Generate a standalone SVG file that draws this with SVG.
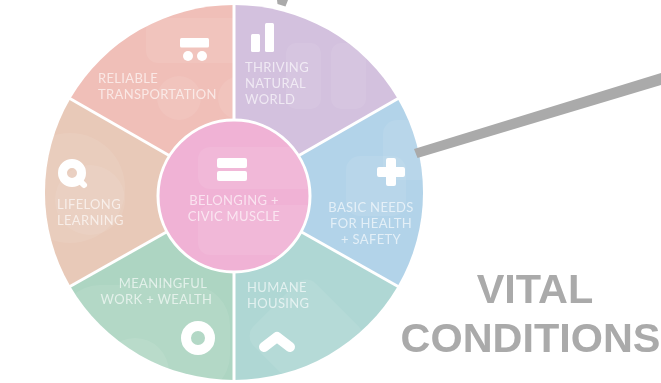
<svg xmlns="http://www.w3.org/2000/svg" width="661" height="383" viewBox="0 0 661 383">
<style>
.lb{font-family:Lato,"Open Sans",sans-serif;font-size:13px;fill:#fff;fill-opacity:.64;letter-spacing:.34px}
.c{text-anchor:middle}
.ic{fill:#fff}
.icl{fill:none;stroke:#fff}
.p{fill:#fff;fill-opacity:.08}
.sp{stroke:#fff;stroke-width:3;fill:none}
.tt{font-family:"Liberation Sans",Arial,sans-serif;font-weight:bold;font-size:41.400px;fill:#aaa;text-anchor:middle}
.cn{fill:#aaa}
</style>
<defs>
<filter id="soft" x="-5%" y="-5%" width="110%" height="110%"><feGaussianBlur stdDeviation="0.5"/></filter>
<clipPath id="c1"><path d="M234 193V5A189 187.500 0 0 1 397.700 98.750Z"/></clipPath>
<clipPath id="c2"><path d="M234 193L397.700 98.750A189 187.500 0 0 1 397.700 286.250Z"/></clipPath>
<clipPath id="c3"><path d="M234 193L397.700 286.250A189 187.500 0 0 1 234 380Z"/></clipPath>
<clipPath id="c4"><path d="M234 193V380A189 187.500 0 0 1 70.300 286.250Z"/></clipPath>
<clipPath id="c5"><path d="M234 193L70.300 286.250A189 187.500 0 0 1 70.300 98.750Z"/></clipPath>
<clipPath id="c6"><path d="M234 193L70.300 98.750A189 187.500 0 0 1 234 5Z"/></clipPath>
<clipPath id="c7"><circle cx="234" cy="196" r="75"/></clipPath>
</defs>
<g filter="url(#soft)">
<g id="thriving-natural-world">
<path d="M234 193V5A189 187.500 0 0 1 397.700 98.750Z" fill="#d3c1de"/>
<g clip-path="url(#c1)"><rect class="p" x="286" y="43" width="35" height="66" rx="10"/><rect class="p" x="331" y="43" width="35" height="66" rx="10"/></g>
<rect class="ic" x="251" y="34" width="9" height="18" rx="1.500"/><rect class="ic" x="265" y="23" width="9" height="29" rx="1.500"/>
<text class="lb" x="245" y="72">THRIVING</text><text class="lb" x="245" y="88">NATURAL</text><text class="lb" x="245" y="104">WORLD</text>
</g>
<g id="basic-needs">
<path d="M234 193L397.700 98.750A189 187.500 0 0 1 397.700 286.250Z" fill="#b2d3e9"/>
<g clip-path="url(#c2)"><rect class="p" x="346" y="156" width="60" height="60" rx="14"/><rect class="p" x="383" y="120" width="50" height="60" rx="14"/></g>
<path class="ic" d="M386 160a2 2 0 0 1 2-2h6a2 2 0 0 1 2 2v7h7a2 2 0 0 1 2 2v6a2 2 0 0 1-2 2h-7v7a2 2 0 0 1-2 2h-6a2 2 0 0 1-2-2v-7h-7a2 2 0 0 1-2-2v-6a2 2 0 0 1 2-2h7z"/>
<text class="lb c" x="371" y="212">BASIC NEEDS</text><text class="lb c" x="371" y="228">FOR HEALTH</text><text class="lb c" x="371" y="244">+ SAFETY</text>
</g>
<g id="humane-housing">
<path d="M234 193L397.700 286.250A189 187.500 0 0 1 234 380Z" fill="#afd7d4"/>
<g clip-path="url(#c3)"><rect class="p" x="262" y="292" width="88" height="88" rx="14" transform="rotate(45 306 336)"/></g>
<path class="icl" d="M264 347L277 337L290 347" stroke-width="10" stroke-linecap="round" stroke-linejoin="round"/>
<text class="lb" x="247" y="292">HUMANE</text><text class="lb" x="247" y="308">HOUSING</text>
</g>
<g id="meaningful-work">
<path d="M234 193V380A189 187.500 0 0 1 70.300 286.250Z" fill="#add5c2"/>
<g clip-path="url(#c4)"><circle class="p" cx="135" cy="372" r="34"/><rect class="p" x="60" y="285" width="170" height="110" rx="40"/></g>
<circle class="icl" cx="198" cy="338" r="12" stroke-width="10"/>
<text class="lb c" x="163" y="288">MEANINGFUL</text><text class="lb c" x="156.500" y="304">WORK + WEALTH</text>
</g>
<g id="lifelong-learning">
<path d="M234 193L70.300 286.250A189 187.500 0 0 1 70.300 98.750Z" fill="#e8c9b8"/>
<g clip-path="url(#c5)"><circle class="p" cx="70" cy="188" r="55"/><circle class="p" cx="90" cy="200" r="35"/></g>
<circle class="icl" cx="72" cy="173" r="9.500" stroke-width="9"/><path class="icl" d="M79 180L84 185" stroke-width="6" stroke-linecap="round"/>
<text class="lb" x="57" y="209">LIFELONG</text><text class="lb" x="57" y="225">LEARNING</text>
</g>
<g id="reliable-transportation">
<path d="M234 193L70.300 98.750A189 187.500 0 0 1 234 5Z" fill="#f0bfb8"/>
<g clip-path="url(#c6)"><rect class="p" x="146" y="18" width="100" height="45" rx="12"/><circle class="p" cx="179" cy="98" r="22"/><circle class="p" cx="240" cy="98" r="22"/></g>
<rect class="ic" x="180" y="38" width="29" height="9.500" rx="1.500"/><circle class="ic" cx="188" cy="56" r="5"/><circle class="ic" cx="202" cy="56" r="5"/>
<text class="lb" x="98" y="83">RELIABLE</text><text class="lb" x="98" y="99">TRANSPORTATION</text>
</g>
<line class="sp" x1="234" y1="3" x2="234" y2="125"/>
<line class="sp" x1="234" y1="266" x2="234" y2="382"/>
<line class="sp" x1="69" y1="98" x2="170" y2="156"/>
<line class="sp" x1="399" y1="98" x2="298" y2="156"/>
<line class="sp" x1="69" y1="287" x2="170" y2="230"/>
<line class="sp" x1="399" y1="287" x2="298" y2="230"/>
<g id="belonging-civic-muscle">
<circle cx="234" cy="196" r="76" fill="#f0b2d5" stroke="#fff" stroke-width="3"/>
<g clip-path="url(#c7)"><rect class="p" x="198" y="147" width="120" height="42" rx="12"/><rect class="p" x="198" y="205" width="120" height="50" rx="12"/></g>
<rect class="ic" x="217" y="158" width="30" height="10" rx="2"/><rect class="ic" x="217" y="171" width="30" height="10" rx="2"/>
<text class="lb c" x="234" y="205">BELONGING +</text><text class="lb c" x="234" y="221">CIVIC MUSCLE</text>
</g>
</g>
<g id="connectors">
<polygon class="cn" points="414,149 661,73 661,85 417.500,158"/>
<polygon class="cn" points="277,0 288,0 285.500,6.500 277.500,4"/>
</g>
<g id="vital-conditions">
<text class="tt" x="535" y="303">VITAL</text>
<text class="tt" x="530.500" y="352">CONDITIONS</text>
</g>
</svg>
